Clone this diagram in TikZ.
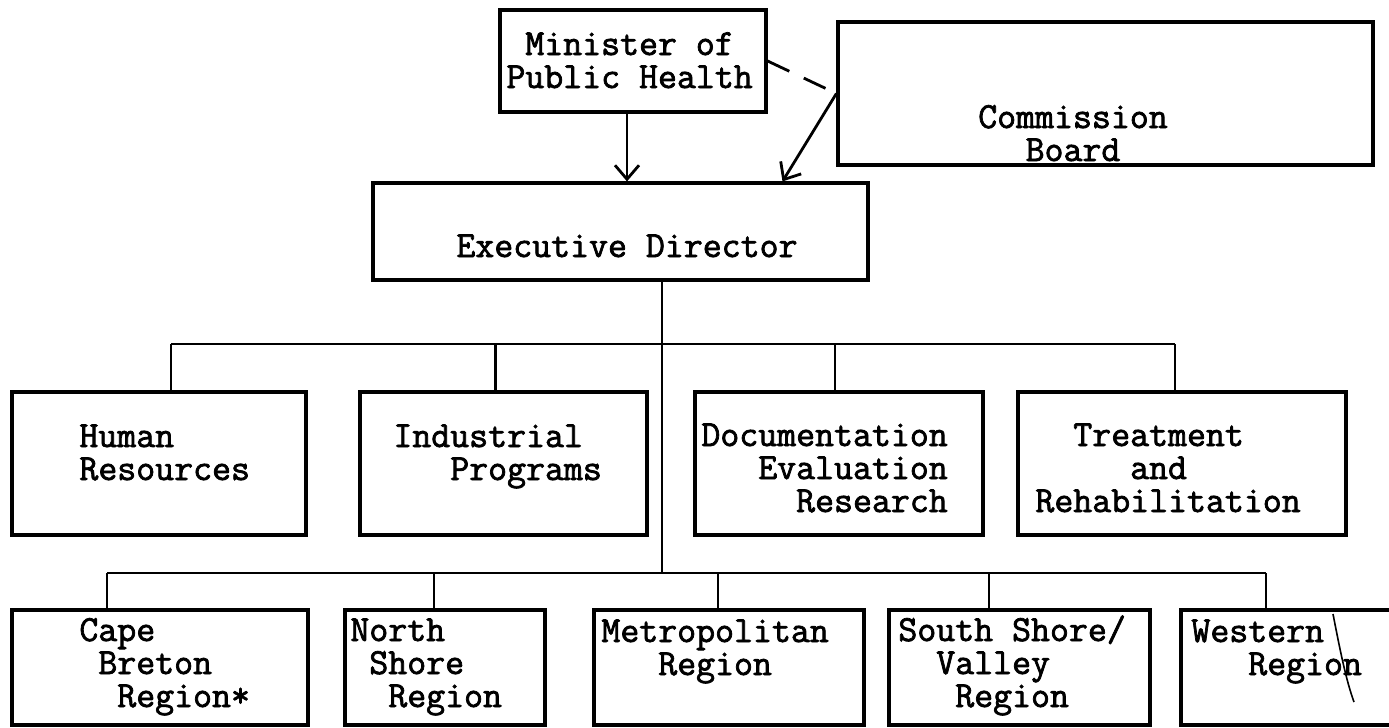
\documentclass[tikz,border=0pt]{standalone}
\usepackage{fontspec}
\usetikzlibrary{arrows.meta}
\newfontfamily\typewfont{Latin Modern Mono}[FakeBold=2]
\newcommand\typew{\typewfont\fontsize{18.4}{16.5}\selectfont}

\begin{document}
\begin{tikzpicture}[x=0.5pt,y=-0.5pt,line width=1.4pt,
    box/.style={draw,line width=1.6pt,inner sep=0pt},
    txt/.style={anchor=base west,align=left,inner sep=0pt,font=\typew},
    arr/.style={-{Straight Barb[length=7pt,width=12pt]}}]
    \useasboundingbox (0,0) rectangle (1389,728);

    % minister, board and director (text nodes sit on their last baseline)
    \node[box,minimum width=133pt,minimum height=51pt] (minister) at (633,61) {};
    \node[box,minimum width=267.5pt,minimum height=71.5pt] (board) at (1105.5,93.5) {};
    \node[box,minimum width=247.5pt,minimum height=48.5pt] (director) at (620.5,231.5) {};
    \node[txt] (minister-t) at (505,88) {\phantom{x}Minister of\\Public Health};
    \node[txt,align=center,anchor=base] (board-t) at (1073,161) {Commission\\Board};
    \node[txt] (director-t) at (455,257) {Executive Director};

    \draw[arr] ([xshift=-3pt]minister.south) -- ([xshift=-3pt]minister.south |- director.north);
    \draw[arr] (board.west) -- ([xshift=81pt]director.north);
    \draw[dash pattern=on 12pt off 8pt] (minister.east) -- (board.west);

    \coordinate (dbar) at (662,344);
    \coordinate (rbar) at (662,573);
    \draw (director.south -| rbar) -- (rbar);

    % divisions
    \node[box,minimum width=147pt,minimum height=71.5pt] (hr) at (159,463.5) {};
    \node[box,minimum width=143.5pt,minimum height=71.5pt] (ind) at (503.5,463.5) {};
    \node[box,minimum width=144pt,minimum height=71.5pt] (doc) at (839,463.5) {};
    \node[box,minimum width=164pt,minimum height=71.5pt] (treat) at (1182,463.5) {};
    \node[txt] (hr-t) at (78,480) {Human\\Resources};
    \node[txt] (ind-t) at (392,480) {Industrial\\\phantom{xxx}Programs};
    \node[txt] (doc-t) at (700,512) {Documentation\\\phantom{xxx}Evaluation\\\phantom{xxxxx}Research};
    \node[txt] (treat-t) at (1034,512) {\phantom{xx}Treatment\\\phantom{xxxxx}and\\Rehabilitation};

    \draw ([xshift=6pt]hr.north |- dbar) -- ([xshift=-3.5pt]treat.north |- dbar);
    \foreach \n/\dx in {hr/6pt,ind/-4pt,doc/-2pt,treat/-3.5pt}
        \draw ([xshift=\dx]\n.north) -- ([xshift=\dx]\n.north |- dbar);

    % regions
    \node[box,minimum width=148pt,minimum height=57.5pt] (cape) at (160,667.5) {};
    \node[box,minimum width=100pt,minimum height=57.5pt] (north) at (445,667.5) {};
    \node[box,minimum width=135pt,minimum height=57.5pt] (metro) at (729,667.5) {};
    \node[box,minimum width=130.5pt,minimum height=57.5pt] (south) at (1019.5,667.5) {};
    \node[box,minimum width=119.5pt,minimum height=57.5pt] (west) at (1300.5,667.5) {};
    \node[txt] (cape-t) at (78,707) {Cape\\\phantom{x}Breton\\\phantom{xx}Region*};
    \node[txt] (north-t) at (349,707) {North\\\phantom{x}Shore\\\phantom{xx}Region};
    \node[txt] (metro-t) at (600,675) {Metropolitan\\\phantom{xxx}Region};
    \node[txt] (south-t) at (897,707) {South Shore/\\\phantom{xx}Valley\\\phantom{xxx}Region};
    \node[txt] (west-t) at (1190,675) {Western\\\phantom{xxx}Region};

    \draw ([xshift=-26.5pt]cape.north |- rbar) -- ([xshift=-17.25pt]west.north |- rbar);
    \foreach \n/\dx in {cape/-26.5pt,north/-5.5pt,metro/-5.5pt,south/-15.25pt,west/-17.25pt}
        \draw ([xshift=\dx]\n.north) -- ([xshift=\dx]\n.north |- rbar);

    \draw[line width=0.8pt] (1333,614) .. controls (1340,650) and (1346,680) .. (1354,702);
\end{tikzpicture}
\end{document}
